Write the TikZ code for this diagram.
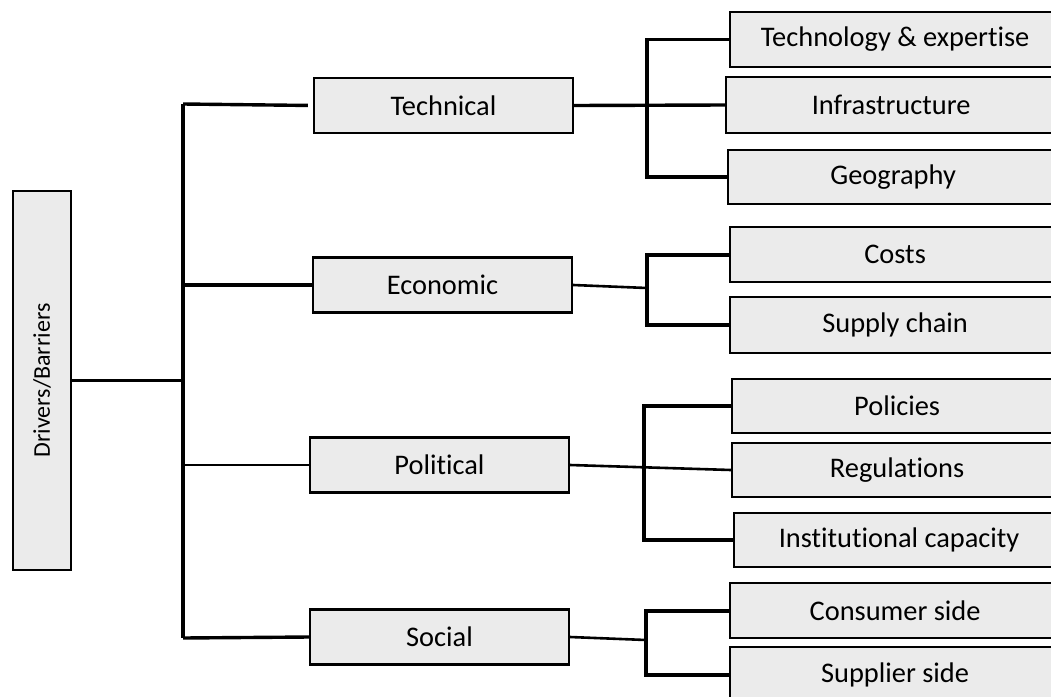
\documentclass[tikz,border=0pt]{standalone}
\usepackage{fontspec}
\setsansfont{Carlito}[Ligatures={NoCommon}]
\usepackage{tikz}
\definecolor{boxgray}{RGB}{235,235,235}

\begin{document}
\begin{tikzpicture}[x=1pt,y=-1pt,
	box/.style={draw,line width=2.2pt,fill=boxgray,inner sep=0pt,font=\sffamily\fontsize{28.4}{32}\selectfont},
	catbox/.style={box,minimum width=259pt,minimum height=55pt},
	subbox/.style={box,anchor=west,minimum width=330pt,minimum height=55pt},
	link/.style={line width=3.4pt}]
	\useasboundingbox (0,0) rectangle (1051,696);
	\clip (0,0) rectangle (1051,696);
	% root
		\node[box,minimum width=58pt,minimum height=379pt] (drv) at (42,380.5) {};
		\node[rotate=90,font=\sffamily\fontsize{24}{28}\selectfont] (drvtext) at (drv.center) {Drivers/Barriers};
	% categories
		\node[catbox] (tech) at (443.5,105.5) {Technical};
		\node[catbox] (econ) at (442.5,285) {Economic};
		\node[catbox] (pol) at (439.5,465) {Political};
		\node[catbox] (soc) at (439.5,637) {Social};
	% trunk
		\coordinate (trunkT) at (183,104);
		\coordinate (trunkB) at (183,638);
		\draw[link,line width=2.6pt] (drv.east) -- (drv.east -| trunkT);
		\draw[link] (trunkT) -- (trunkB);
		\draw[link,shorten >=5pt] (trunkT) -- (tech.west);
		\draw[link] (econ.west -| trunkT) -- (econ.west);
		\draw[link,line width=2.6pt] (pol.west -| trunkT) -- (pol.west);
		\draw[link] (trunkB) -- (soc.west);
	% technical
		\node[subbox] (techexp) at (729,39.5) {Technology \& expertise};
		\node[subbox,minimum height=56pt] (infra) at (725,105) {Infrastructure};
		\node[subbox,minimum height=54pt] (geo) at (727,177) {Geography};
		\coordinate (forkA) at (647,105);
		\draw[link] (tech.east) -- (infra.west);
		\draw[link] (techexp.west) -| (forkA) |- (geo.west);
	% economic
		\node[subbox] (costs) at (729,254.5) {Costs};
		\node[subbox,minimum height=56pt] (supply) at (729,325) {Supply chain};
		\coordinate (forkB) at (647,288);
		\draw[link,line width=2.6pt] (econ.east) -- (forkB);
		\draw[link,line width=4pt] (costs.west) -| (forkB) |- (supply.west);
	% political
		\node[subbox,minimum height=54pt] (policies) at (731,406) {Policies};
		\node[subbox,minimum height=54pt] (regul) at (731,470) {Regulations};
		\node[subbox,minimum height=54pt] (inst) at (733,540) {Institutional capacity};
		\coordinate (forkC) at (644,469);
		\draw[link,line width=2.6pt] (pol.east) -- (regul.west);
		\draw[link] (policies.west) -| (forkC) |- (inst.west);
	% social
		\node[subbox] (consumer) at (729,610.5) {Consumer side};
		\node[subbox] (supplier) at (729,674.5) {Supplier side};
		\coordinate (forkD) at (646,640);
		\draw[link,line width=2.6pt] (soc.east) -- (forkD);
		\draw[link,line width=4pt] (consumer.west) -| (forkD) |- (supplier.west);
\end{tikzpicture}
\end{document}
